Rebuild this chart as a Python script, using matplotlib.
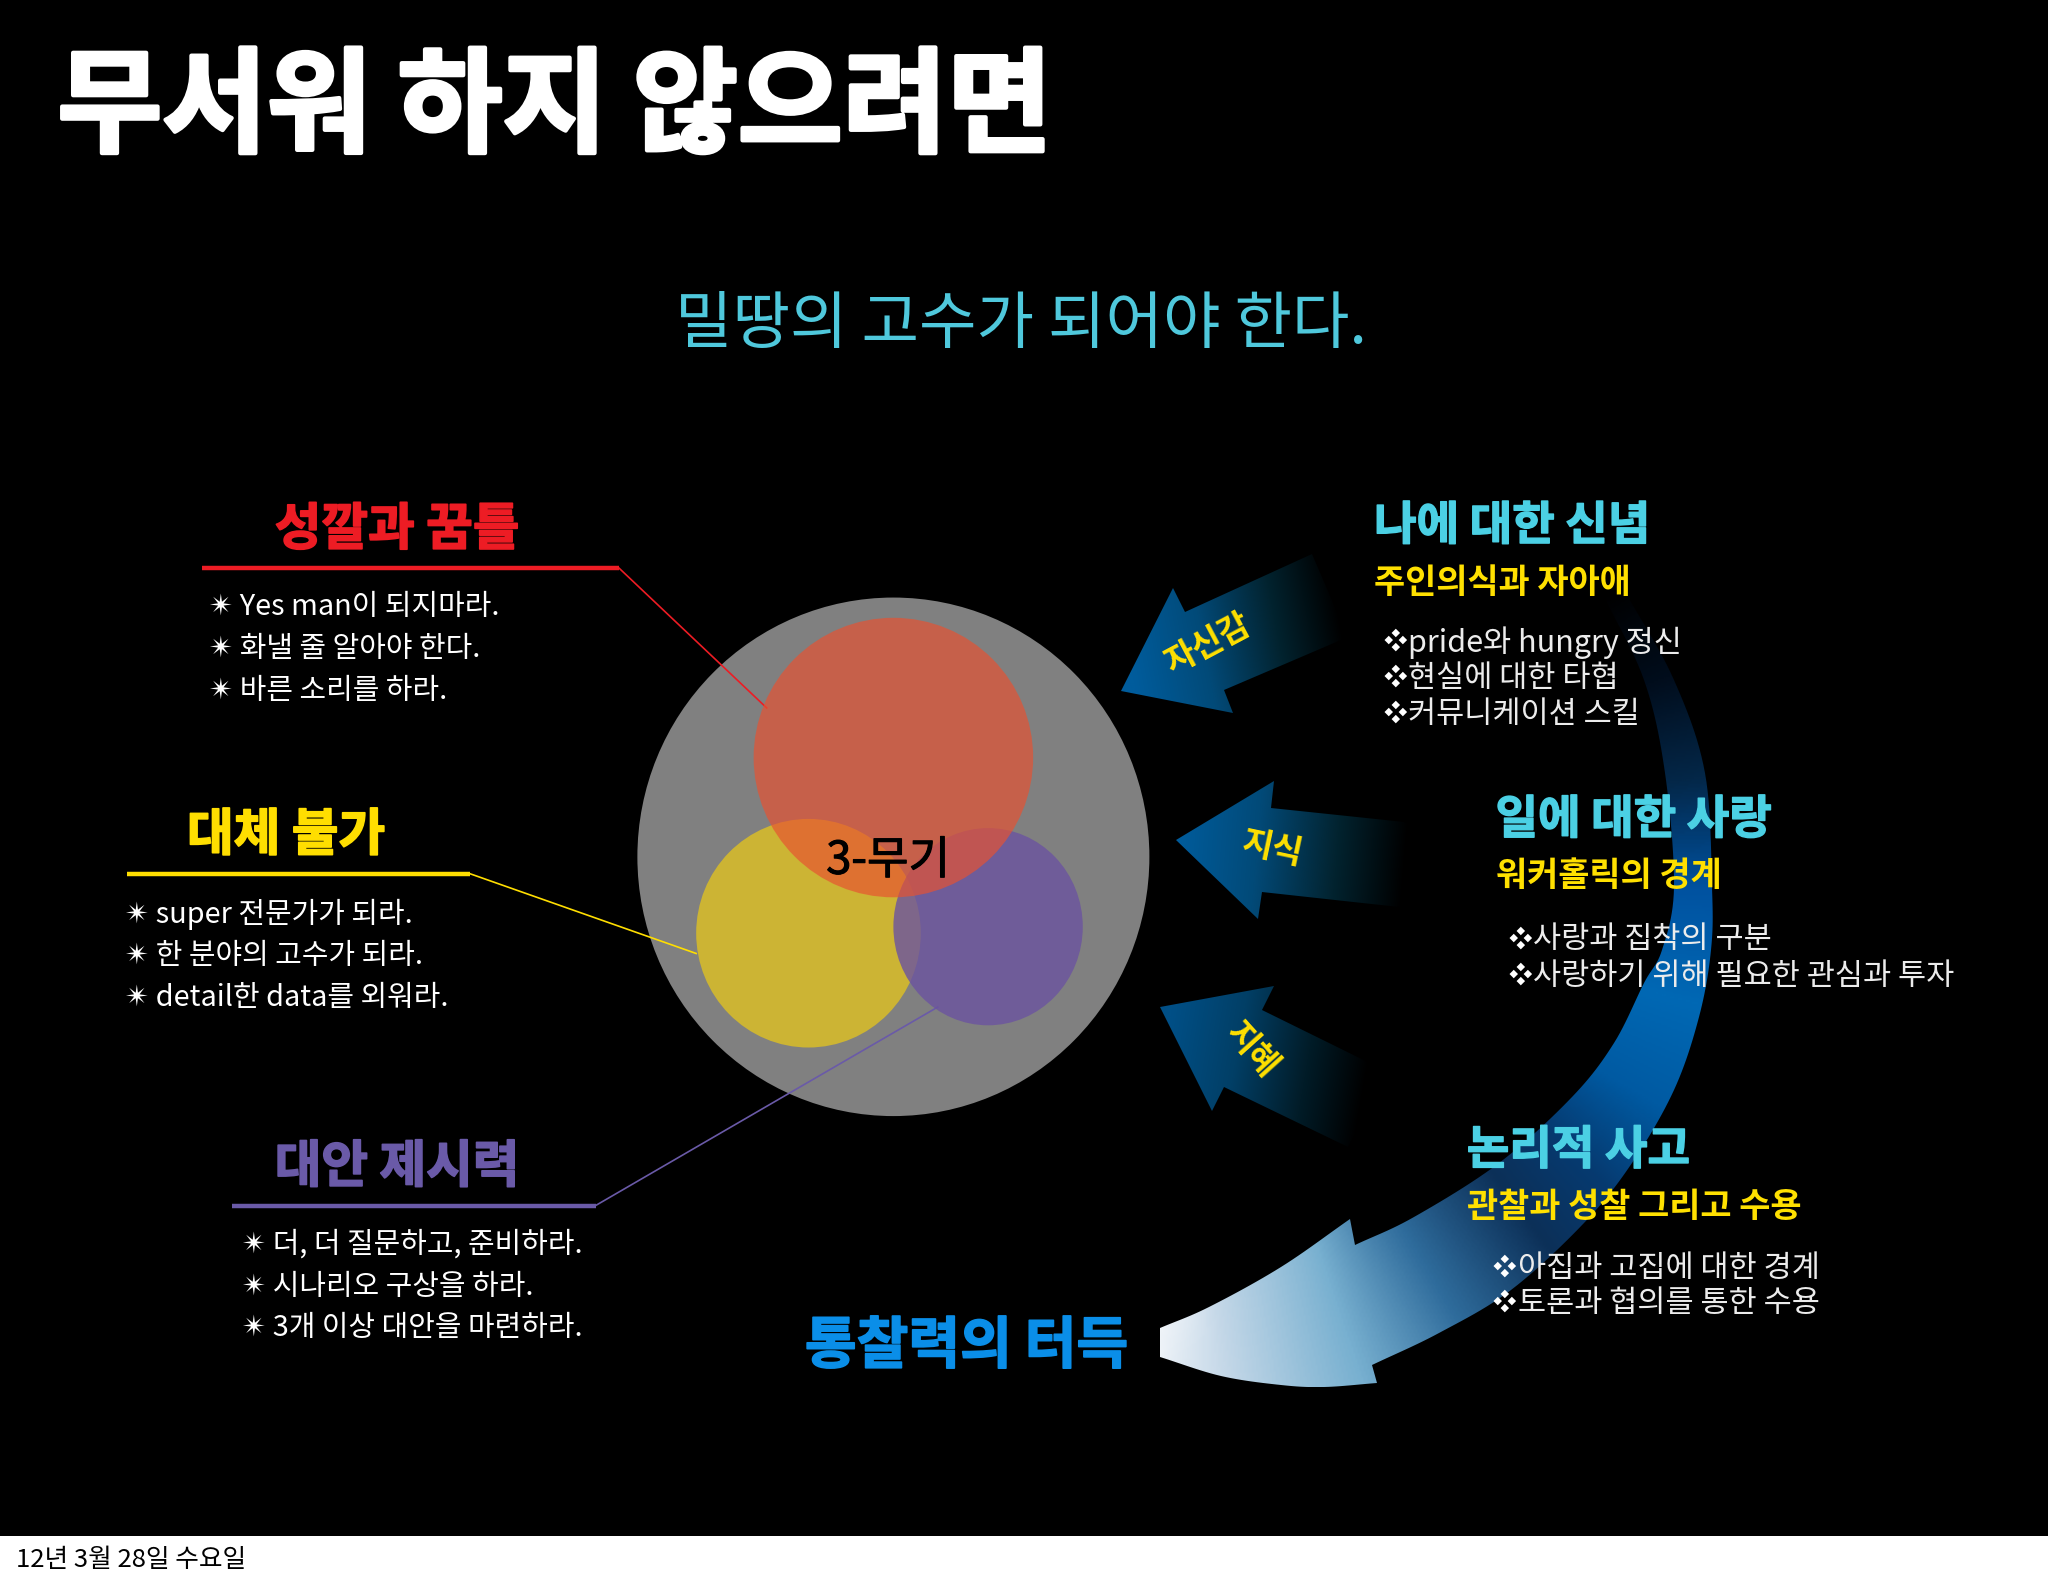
import numpy as np
import matplotlib
matplotlib.use("Agg")
import matplotlib.pyplot as plt
import matplotlib.patheffects as pe
from matplotlib.patches import Ellipse, PathPatch, Rectangle
from matplotlib.path import Path
from matplotlib.colors import to_rgb

FONT = ['Noto Sans CJK KR', 'DejaVu Sans']
plt.rcParams['font.family'] = FONT

W, H = 2048, 1576
S = 2048 / 1568

TITLE = "무서워 하지 않으려면"
SUBTITLE = "밀땅의 고수가 되어야 한다."
CENTER_LABEL = "3-무기"
FOOTER = "12년 3월 28일 수요일"
OUTCOME = "통찰력의 터득"

LEFT_HEADS = ["성깔과 꿈틀", "대체 불가", "대안 제시력"]
LEFT_COLORS = ["#ed1c24", "#ffde00", "#6a5aa8"]
LEFT_BULLETS = [
    ["✴ Yes man이 되지마라.", "✴ 화낼 줄 알아야 한다.", "✴ 바른 소리를 하라."],
    ["✴ super 전문가가 되라.", "✴ 한 분야의 고수가 되라.", "✴ detail한 data를 외워라."],
    ["✴ 더, 더 질문하고, 준비하라.", "✴ 시나리오 구상을 하라.", "✴ 3개 이상 대안을 마련하라."],
]
RIGHT_HEADS = ["나에 대한 신념", "일에 대한 사랑", "논리적 사고"]
RIGHT_SUBS = ["주인의식과 자아애", "워커홀릭의 경계", "관찰과 성찰 그리고 수용"]
RIGHT_BULLETS = [
    ["pride와 hungry 정신", "현실에 대한 타협", "커뮤니케이션 스킬"],
    ["사랑과 집착의 구분", "사랑하기 위해 필요한 관심과 투자"],
    ["아집과 고집에 대한 경계", "토론과 협의를 통한 수용"],
]
ARROW_LABELS = ["자신감", "지식", "지혜"]

fig = plt.figure(figsize=(W / 100, H / 100), dpi=100, facecolor="white")
ax = fig.add_axes([0, 0, 1, 1])
ax.set_xlim(0, W)
ax.set_ylim(H, 0)
ax.axis("off")
ax.add_patch(Rectangle((0, 0), W, 1536, fc="black", ec="none", zorder=0))


def T(x, y, s, size, color="white", weight="normal", ha="left", rot=0, z=10, stroke=0):
    t = ax.text(x * S, y * S, s, fontsize=size, color=color, fontweight=weight,
                ha=ha, va="center", rotation=rot, rotation_mode="anchor",
                family=FONT, zorder=z)
    if stroke:
        t.set_path_effects([pe.withStroke(linewidth=stroke, foreground=color)])
    return t


def grad_fill(poly, stops, start, end, z=2):
    x0, x1 = poly[:, 0].min() - 2, poly[:, 0].max() + 2
    y0, y1 = poly[:, 1].min() - 2, poly[:, 1].max() + 2
    xx, yy = np.meshgrid(np.linspace(x0, x1, 300), np.linspace(y0, y1, 300))
    d = np.array(end, float) - np.array(start, float)
    t = ((xx - start[0]) * d[0] + (yy - start[1]) * d[1]) / (d @ d)
    t = np.clip(t, 0, 1)
    pos = [s[0] for s in stops]
    cols = np.array([to_rgb(s[1]) for s in stops])
    img = np.dstack([np.interp(t, pos, cols[:, i]) for i in range(3)])
    im = ax.imshow(img, extent=(x0, x1, y1, y0), origin="upper", aspect="auto",
                   zorder=z, interpolation="bilinear")
    patch = PathPatch(Path(np.vstack([poly, poly[0]]), closed=True), fc="none", ec="none",
                      transform=ax.transData)
    ax.add_patch(patch)
    im.set_clip_path(patch)


def smooth(pts, n=12):
    pts = np.array(pts, float)
    p = np.vstack([2 * pts[0] - pts[1], pts, 2 * pts[-1] - pts[-2]])
    out = []
    for i in range(1, len(p) - 2):
        for u in np.linspace(0, 1, n, endpoint=False):
            a, b, c, d = p[i - 1], p[i], p[i + 1], p[i + 2]
            out.append(0.5 * (2 * b + (c - a) * u + (2 * a - 5 * b + 4 * c - d) * u ** 2
                              + (3 * b - a - 3 * c + d) * u ** 3))
    out.append(pts[-1])
    return np.array(out)


# big curved arrow
outer = smooth([(1626, 593), (1674, 680), (1705, 773), (1712, 887), (1711, 950), (1699, 1017),
                (1674, 1090), (1632, 1163), (1584, 1223), (1511, 1290), (1439, 1333), (1372, 1365)])
bottom = smooth([(1377, 1383), (1324, 1387), (1281, 1385), (1221, 1376), (1160, 1357)])
upper = smooth([(1160, 1328), (1209, 1307), (1281, 1267), (1350, 1219)])
inner = smooth([(1355, 1245), (1414, 1217), (1499, 1163), (1572, 1097), (1614, 1043),
                (1644, 983), (1662, 950), (1674, 887), (1665, 773), (1644, 680), (1602, 593)])
big = np.vstack([outer, bottom, upper, inner])
stops_xy = np.array([(1614, 590), (1660, 680), (1686, 780), (1693, 890), (1680, 1000), (1640, 1095),
                     (1584, 1165), (1523, 1215), (1432, 1280), (1342, 1325), (1221, 1350), (1160, 1345)], float)
stops_c = np.array([to_rgb(c) for c in ["#000000", "#010d1c", "#042748", "#0052a0", "#0068b4", "#005aa2",
                                        "#063a70", "#0c3058", "#2f6c9c", "#78b0d0", "#c5d8e8", "#eef3f8"]])
dense = smooth(stops_xy, 30)
seg = np.r_[0, np.cumsum(np.hypot(*np.diff(dense, axis=0).T))]
knots = seg[::30]
dc = np.dstack([np.interp(seg, knots, stops_c[:, i]) for i in range(3)])[0]
x0, x1, y0, y1 = big[:, 0].min(), big[:, 0].max(), big[:, 1].min(), big[:, 1].max()
gx = np.arange(x0, x1, 2.0)
gy = np.arange(y0, y1, 2.0)
xx, yy = np.meshgrid(gx, gy)
idx = np.argmin((xx[..., None] - dense[:, 0]) ** 2 + (yy[..., None] - dense[:, 1]) ** 2, axis=2)
im = ax.imshow(dc[idx], extent=(x0, x1, y1, y0), origin="upper", aspect="auto", zorder=1,
               interpolation="bilinear")
bp = PathPatch(Path(np.vstack([big, big[0]]), closed=True), fc="none", ec="none", transform=ax.transData)
ax.add_patch(bp)
im.set_clip_path(bp)

# three straight arrows
ARROWS = [
    np.array([(1121, 691), (1173, 588), (1185, 612), (1312, 554), (1348, 637), (1224, 690), (1233, 713)], float),
    np.array([(1176, 840), (1274, 781), (1271, 808), (1414, 823), (1408, 908), (1262, 892), (1258, 919)], float),
    np.array([(1160, 1007), (1274, 986), (1262, 1010), (1390, 1073), (1348, 1147), (1224, 1087), (1212, 1111)], float),
]
ARROW_DIRS = [((1130, 660), (1340, 620)), ((1176, 845), (1405, 865)), ((1165, 1050), (1365, 1085))]
ARROW_STOPS = [
    [(0, "#005c9c"), (0.35, "#024a78"), (0.7, "#02232f"), (1, "#000000")],
    [(0, "#005c9c"), (0.35, "#024a78"), (0.7, "#02232f"), (1, "#000000")],
    [(0, "#004f86"), (0.35, "#023f66"), (0.7, "#011c28"), (1, "#000000")],
]
for poly, (a, b), st in zip(ARROWS, ARROW_DIRS, ARROW_STOPS):
    grad_fill(poly, st, a, b, z=2)

ax.set_xlim(0, W)
ax.set_ylim(H, 0)

# circles
ax.add_patch(Ellipse((684 * S, 656 * S), 392 * S, 397 * S, fc="#808080", ec="none", zorder=3))

# leader lines
LEADERS = [
    [(155, 435), (474, 435), (587, 542)],
    [(97, 669), (360, 669), (533, 730)],
    [(178, 923), (456, 923), (718, 771)],
]
for pts, col in zip(LEADERS, LEFT_COLORS):
    p = np.array(pts) * S
    ax.plot(p[:2, 0], p[:2, 1], color=col, lw=3.2, solid_capstyle="butt", zorder=3.5)
    ax.plot(p[1:, 0], p[1:, 1], color=col, lw=1.2, zorder=3.5)

ax.add_patch(Ellipse((619 * S, 714.5 * S), 172 * S, 175 * S, fc=(204 / 255, 180 / 255, 52 / 255), ec="none", zorder=4))
ax.add_patch(Ellipse((756.5 * S, 709.5 * S), 145 * S, 151 * S, fc=(107 / 255, 83 / 255, 160 / 255), alpha=.8, ec="none", zorder=5))
ax.add_patch(Ellipse((684 * S, 580 * S), 214 * S, 214 * S, fc=(232 / 255, 82 / 255, 49 / 255), alpha=.68, ec="none", zorder=6))
T(680, 659, CENTER_LABEL, 32.5, "black", ha="center", stroke=0.8)

# text
T(44, 84, TITLE, 82, "white", "bold", stroke=3)
T(517, 249, SUBTITLE, 45, "#4fc8dc", "normal")

LEFT_HEAD_X = [304, 219, 304]
LEFT_HEAD_Y = [406, 640, 894]
LEFT_BX = [160, 96, 185]
LEFT_BY = [465, 700, 953]
for i in range(3):
    T(LEFT_HEAD_X[i], LEFT_HEAD_Y[i], LEFT_HEADS[i], 36.5, LEFT_COLORS[i], "bold", ha="center", stroke=1.2)
    for j, s in enumerate(LEFT_BULLETS[i]):
        T(LEFT_BX[i], LEFT_BY[i] + 32 * j, s, 20.8)

RIGHT_X = [1052, 1145, 1123]
RIGHT_Y = [402.5, 627.5, 880.5]
RIGHT_SY = [446, 670, 924]
RIGHT_BX = [1059, 1155, 1143]
RIGHT_BY = [492, 719.5, 971]
RIGHT_DY = [27.5, 28, 27]
for i in range(3):
    T(RIGHT_X[i], RIGHT_Y[i], RIGHT_HEADS[i], 33.3, "#4bd0e4", "bold", stroke=1.0)
    T(RIGHT_X[i], RIGHT_SY[i], RIGHT_SUBS[i], 24.4, "#ffe000", "bold")
    for j, s in enumerate(RIGHT_BULLETS[i]):
        y = RIGHT_BY[i] + RIGHT_DY[i] * j
        T(RIGHT_BX[i], y, "❖", 17, "white")
        T(RIGHT_BX[i] + 19, y, s, 22, "#ececec", "normal")

T(740, 1031, OUTCOME, 40.5, "#0a8ee8", "bold", ha="center", stroke=1.2)

LX = [925, 974, 958]
LY = [493, 650, 804]
LR = [28, -12, -48]
for s, x, y, r in zip(ARROW_LABELS, LX, LY, LR):
    T(x, y, s, 24, "#ffe000", "bold", ha="center", rot=r)

T(12, 1194, FOOTER, 18.5, "black")

fig.savefig("out.png", dpi=100, facecolor="white")
